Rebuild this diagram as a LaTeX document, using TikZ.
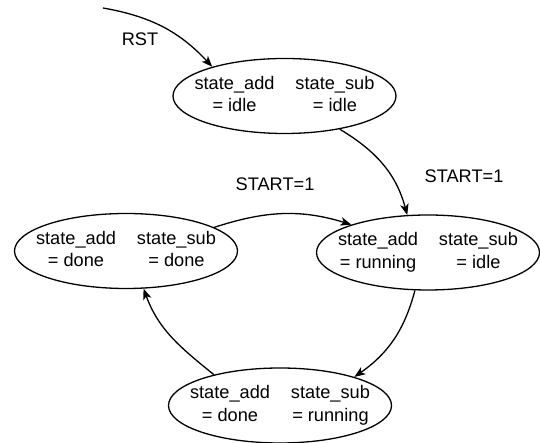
\documentclass[tikz,border=0pt]{standalone}
\usepackage{fontspec}
\setmainfont{Liberation Sans}
\usetikzlibrary{arrows.meta,shapes.geometric}

\newcommand{\statepair}[2]{\makebox[0pt]{\raisebox{-4pt}{\begin{tabular}{@{}c@{\hspace{21pt}}c@{}}state\_add & state\_sub\\ = #1 & = #2\end{tabular}}}}

\begin{document}
\begin{tikzpicture}[x=1pt,y=1pt,>={Stealth[length=11pt,width=8.5pt,inset=3pt]},line join=round,
  font=\fontsize{18.2}{22.5}\selectfont,
  statenode/.style={ellipse,draw,line width=1.3pt,inner sep=0pt,minimum width=223pt,minimum height=75pt},
  trans/.style={->,line width=1.3pt},
  lbl/.style={inner sep=1pt}]
  \useasboundingbox (0,0) rectangle (540,443);
  \coordinate (C0) at (284.500,347.000);
  \coordinate (C1) at (428.000,190.500);
  \coordinate (C2) at (280.000,37.500);
  \coordinate (C3) at (126.000,192.000);
  \coordinate (RS) at (103.000,435.000);
  \node[statenode] (S0) at (C0) {\statepair{idle}{idle}};
  \node[statenode] (S1) at (C1) {\statepair{running}{idle}};
  \node[statenode] (S2) at (C2) {\statepair{done}{running}};
  \node[statenode] (S3) at (C3) {\statepair{done}{done}};
  \draw[trans] (RS) to[out=-10,in=133] (S0.158);
  \draw[trans] (S0.-31) to[out=-31,in=105] (S1.119);
  \draw[trans] (S3.15) to[out=18,in=163] (S1.160);
  \draw[trans] (S1.-109) to[out=-105,in=35] (S2.21);
  \draw[trans] (S2.155) to[out=141,in=-70] (S3.-65);
  \node[lbl] (Lrst) at (140.000,404.000) {RST};
  \node[lbl] (Lgo1) at (464.000,267.000) {START=1};
  \node[lbl] (Lgo2) at (275.000,259.000) {START=1};
\end{tikzpicture}
\end{document}
